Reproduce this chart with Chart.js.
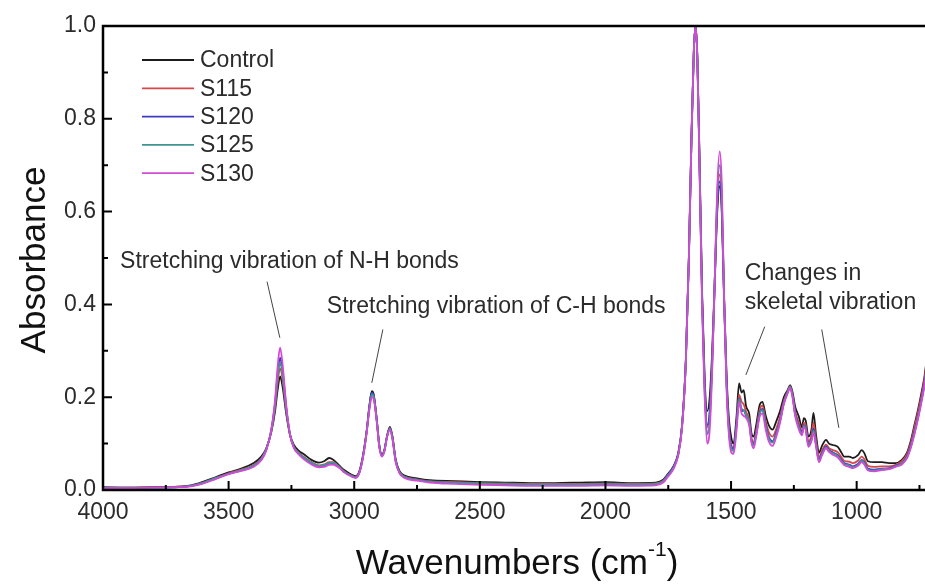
<!DOCTYPE html>
<html>
<head>
<meta charset="utf-8">
<title>FTIR spectra</title>
<script src="https://cdn.jsdelivr.net/npm/chart.js@4"></script>
<style>
  body { margin: 0; background: #fff; }
  canvas { display: block; }
</style>
</head>
<body>
<canvas id="spectra" width="925" height="588"></canvas>
<script>
'use strict'

// Spectra data (absorbance, normalised to the amide I band)

let wavenumbers = [
  4000, 3900, 3800, 3700, 3650, 3600, 3550, 3500, 3450, 3400,
  3370, 3350, 3330, 3315, 3305, 3295, 3285, 3270, 3255, 3240,
  3220, 3200, 3170, 3140, 3120, 3100, 3085, 3060, 3040, 3010,
  2995, 2980, 2965, 2950, 2940, 2930, 2922, 2910, 2900, 2890,
  2880, 2870, 2858, 2848, 2835, 2820, 2800, 2750, 2700, 2600,
  2500, 2400, 2300, 2200, 2100, 2000, 1900, 1800, 1770, 1755,
  1740, 1725, 1710, 1695, 1680, 1668, 1658, 1648, 1641, 1634,
  1625, 1615, 1605, 1595, 1585, 1575, 1565, 1555, 1545, 1537,
  1528, 1518, 1508, 1498, 1490, 1478, 1468, 1458, 1450, 1440,
  1428, 1418, 1410, 1400, 1385, 1375, 1362, 1350, 1335, 1320,
  1305, 1290, 1275, 1265, 1255, 1245, 1230, 1218, 1210, 1203,
  1192, 1180, 1172, 1162, 1150, 1138, 1122, 1110, 1095, 1075,
  1060, 1050, 1030, 1015, 995, 980, 970, 955, 930, 900,
  870, 845, 820, 800, 785, 770, 755, 740, 730, 724
];

let control = [
  0.006, 0.005, 0.006, 0.007, 0.010, 0.018, 0.028, 0.038, 0.046, 0.058,
  0.072, 0.090, 0.125, 0.170, 0.215, 0.245, 0.222, 0.162, 0.118, 0.097,
  0.084, 0.077, 0.065, 0.059, 0.062, 0.069, 0.066, 0.053, 0.043, 0.033,
  0.030, 0.040, 0.075, 0.130, 0.180, 0.213, 0.205, 0.150, 0.095, 0.076,
  0.086, 0.115, 0.136, 0.116, 0.066, 0.041, 0.031, 0.025, 0.021, 0.019,
  0.017, 0.016, 0.015, 0.015, 0.016, 0.017, 0.015, 0.016, 0.022, 0.032,
  0.042, 0.056, 0.080, 0.140, 0.280, 0.500, 0.750, 0.950, 1.000, 0.930,
  0.700, 0.420, 0.240, 0.170, 0.200, 0.300, 0.450, 0.600, 0.655, 0.600,
  0.420, 0.250, 0.150, 0.110, 0.100, 0.160, 0.230, 0.210, 0.215, 0.180,
  0.165, 0.120, 0.115, 0.140, 0.185, 0.190, 0.160, 0.140, 0.130, 0.148,
  0.170, 0.200, 0.215, 0.226, 0.210, 0.180, 0.158, 0.135, 0.155, 0.150,
  0.115, 0.130, 0.166, 0.120, 0.080, 0.095, 0.108, 0.100, 0.097, 0.093,
  0.080, 0.072, 0.072, 0.069, 0.075, 0.086, 0.080, 0.062, 0.060, 0.060,
  0.058, 0.058, 0.065, 0.080, 0.105, 0.140, 0.175, 0.215, 0.245, 0.270
];

let s115 = [
  0.005, 0.005, 0.006, 0.007, 0.009, 0.016, 0.026, 0.036, 0.044, 0.054,
  0.068, 0.088, 0.127, 0.180, 0.232, 0.262, 0.238, 0.168, 0.117, 0.093,
  0.080, 0.071, 0.060, 0.053, 0.055, 0.060, 0.060, 0.050, 0.040, 0.031,
  0.028, 0.038, 0.073, 0.128, 0.176, 0.207, 0.200, 0.148, 0.094, 0.074,
  0.085, 0.114, 0.134, 0.114, 0.064, 0.039, 0.029, 0.023, 0.019, 0.017,
  0.015, 0.014, 0.013, 0.013, 0.013, 0.014, 0.013, 0.014, 0.020, 0.030,
  0.040, 0.054, 0.078, 0.138, 0.278, 0.498, 0.748, 0.950, 1.000, 0.928,
  0.690, 0.405, 0.220, 0.135, 0.165, 0.280, 0.450, 0.620, 0.680, 0.625,
  0.420, 0.235, 0.130, 0.095, 0.090, 0.145, 0.205, 0.190, 0.185, 0.168,
  0.152, 0.110, 0.103, 0.128, 0.175, 0.182, 0.148, 0.125, 0.115, 0.132,
  0.158, 0.192, 0.212, 0.224, 0.205, 0.170, 0.145, 0.126, 0.145, 0.140,
  0.104, 0.118, 0.145, 0.108, 0.070, 0.085, 0.098, 0.090, 0.086, 0.081,
  0.070, 0.063, 0.061, 0.058, 0.063, 0.072, 0.067, 0.052, 0.050, 0.051,
  0.051, 0.054, 0.062, 0.077, 0.100, 0.135, 0.170, 0.208, 0.240, 0.265
];

let s120 = [
  0.005, 0.004, 0.005, 0.006, 0.009, 0.015, 0.025, 0.035, 0.042, 0.052,
  0.066, 0.087, 0.130, 0.188, 0.250, 0.285, 0.255, 0.175, 0.118, 0.092,
  0.078, 0.069, 0.058, 0.051, 0.053, 0.057, 0.058, 0.049, 0.039, 0.030,
  0.027, 0.037, 0.072, 0.128, 0.178, 0.210, 0.203, 0.150, 0.096, 0.075,
  0.085, 0.114, 0.133, 0.113, 0.063, 0.038, 0.028, 0.022, 0.018, 0.015,
  0.013, 0.012, 0.011, 0.011, 0.011, 0.012, 0.011, 0.012, 0.019, 0.030,
  0.041, 0.055, 0.079, 0.139, 0.279, 0.499, 0.749, 0.950, 1.000, 0.928,
  0.690, 0.410, 0.225, 0.140, 0.170, 0.280, 0.445, 0.610, 0.665, 0.610,
  0.415, 0.235, 0.130, 0.092, 0.088, 0.145, 0.198, 0.170, 0.172, 0.160,
  0.148, 0.106, 0.098, 0.122, 0.168, 0.175, 0.140, 0.115, 0.105, 0.124,
  0.150, 0.188, 0.210, 0.222, 0.203, 0.165, 0.138, 0.122, 0.140, 0.135,
  0.098, 0.110, 0.132, 0.100, 0.064, 0.079, 0.094, 0.086, 0.081, 0.075,
  0.064, 0.058, 0.055, 0.051, 0.056, 0.065, 0.060, 0.046, 0.044, 0.046,
  0.047, 0.052, 0.058, 0.072, 0.094, 0.126, 0.160, 0.200, 0.230, 0.255
];

let s125 = [
  0.005, 0.005, 0.005, 0.006, 0.009, 0.016, 0.026, 0.035, 0.043, 0.053,
  0.067, 0.088, 0.128, 0.184, 0.242, 0.275, 0.247, 0.172, 0.118, 0.092,
  0.079, 0.070, 0.059, 0.052, 0.054, 0.058, 0.059, 0.050, 0.040, 0.030,
  0.027, 0.037, 0.072, 0.127, 0.176, 0.206, 0.200, 0.148, 0.094, 0.074,
  0.084, 0.113, 0.132, 0.112, 0.062, 0.038, 0.028, 0.022, 0.018, 0.016,
  0.014, 0.013, 0.012, 0.012, 0.012, 0.013, 0.012, 0.013, 0.019, 0.029,
  0.039, 0.053, 0.077, 0.137, 0.277, 0.497, 0.747, 0.949, 1.000, 0.927,
  0.685, 0.400, 0.212, 0.120, 0.150, 0.270, 0.450, 0.635, 0.700, 0.640,
  0.420, 0.228, 0.122, 0.088, 0.084, 0.138, 0.196, 0.175, 0.172, 0.162,
  0.146, 0.104, 0.096, 0.120, 0.166, 0.172, 0.137, 0.112, 0.102, 0.120,
  0.148, 0.187, 0.211, 0.222, 0.202, 0.164, 0.135, 0.120, 0.138, 0.133,
  0.096, 0.108, 0.128, 0.098, 0.062, 0.077, 0.092, 0.084, 0.079, 0.073,
  0.062, 0.056, 0.053, 0.049, 0.054, 0.063, 0.058, 0.044, 0.042, 0.045,
  0.046, 0.051, 0.057, 0.070, 0.092, 0.123, 0.158, 0.198, 0.228, 0.252
];

let s130 = [
  0.004, 0.004, 0.005, 0.006, 0.008, 0.014, 0.024, 0.034, 0.041, 0.050,
  0.064, 0.085, 0.130, 0.195, 0.265, 0.307, 0.270, 0.180, 0.118, 0.090,
  0.076, 0.066, 0.055, 0.049, 0.050, 0.054, 0.055, 0.048, 0.038, 0.029,
  0.026, 0.036, 0.070, 0.125, 0.172, 0.200, 0.195, 0.145, 0.092, 0.072,
  0.083, 0.112, 0.130, 0.110, 0.060, 0.036, 0.026, 0.020, 0.016, 0.013,
  0.011, 0.010, 0.009, 0.009, 0.009, 0.010, 0.009, 0.010, 0.016, 0.026,
  0.036, 0.050, 0.075, 0.135, 0.275, 0.495, 0.745, 0.948, 1.000, 0.925,
  0.680, 0.390, 0.200, 0.100, 0.130, 0.260, 0.450, 0.650, 0.730, 0.660,
  0.420, 0.220, 0.115, 0.080, 0.078, 0.130, 0.190, 0.165, 0.160, 0.155,
  0.140, 0.100, 0.090, 0.115, 0.160, 0.165, 0.130, 0.105, 0.095, 0.115,
  0.145, 0.185, 0.208, 0.220, 0.198, 0.160, 0.130, 0.118, 0.135, 0.130,
  0.093, 0.105, 0.123, 0.095, 0.060, 0.075, 0.090, 0.082, 0.076, 0.070,
  0.060, 0.054, 0.050, 0.047, 0.052, 0.060, 0.055, 0.042, 0.040, 0.043,
  0.045, 0.050, 0.055, 0.068, 0.090, 0.120, 0.155, 0.195, 0.225, 0.250
];

let seriesNames = ['Control', 'S115', 'S120', 'S125', 'S130'];
let seriesValues = [control, s115, s120, s125, s130];
let seriesColors = ['#1c1c1c', '#d8474a', '#3a3ac4', '#3f9494', '#d24ad6'];

let xTickValues = [4000, 3500, 3000, 2500, 2000, 1500, 1000];
let xMinorValues = [3750, 3250, 2750, 2250, 1750, 1250, 750];
let yTickValues = [0, 0.2, 0.4, 0.6, 0.8, 1.0];
let yMinorValues = [0.1, 0.3, 0.5, 0.7, 0.9];

const FONT = '"Liberation Sans", Arial, sans-serif';
const INK = '#2b2b2b';

// Labels and leader lines, anchored in data space (wavenumber, absorbance)
let notes = [
  { text: 'Stretching vibration of N-H bonds', x: 3932, y: 0.492 },
  { text: 'Stretching vibration of C-H bonds', x: 3109, y: 0.395 },
  { text: 'Changes in', x: 1445, y: 0.467 },
  { text: 'skeletal vibration', x: 1445, y: 0.404 }
];
let leaders = [
  [3347, 0.449, 3296, 0.328],
  [2886, 0.346, 2930, 0.231],
  [1366, 0.352, 1441, 0.248],
  [1139, 0.346, 1071, 0.134]
];

// Frame, inward ticks, legend, notes and axis titles
const decorations = {
  id: 'decorations',
  afterDraw(chart) {
    const ctx = chart.ctx;
    const area = chart.chartArea;
    const xs = chart.scales.x;
    const ys = chart.scales.y;

    ctx.save();
    ctx.strokeStyle = '#000';
    ctx.lineWidth = 2.5;
    ctx.beginPath();
    ctx.moveTo(area.left, area.top);
    ctx.lineTo(area.right + 2, area.top);
    ctx.moveTo(area.left, area.top - 1.2);
    ctx.lineTo(area.left, area.bottom);
    ctx.lineTo(area.right + 2, area.bottom);
    ctx.stroke();

    ctx.lineWidth = 2;
    ctx.beginPath();
    xTickValues.forEach(v => {
      let px = xs.getPixelForValue(v);
      ctx.moveTo(px, area.bottom);
      ctx.lineTo(px, area.bottom - 9);
    });
    xMinorValues.forEach(v => {
      let px = xs.getPixelForValue(v);
      if (px > area.right) return;
      ctx.moveTo(px, area.bottom);
      ctx.lineTo(px, area.bottom - 5);
    });
    yTickValues.forEach(v => {
      let py = ys.getPixelForValue(v);
      ctx.moveTo(area.left, py);
      ctx.lineTo(area.left + 9, py);
    });
    yMinorValues.forEach(v => {
      let py = ys.getPixelForValue(v);
      ctx.moveTo(area.left, py);
      ctx.lineTo(area.left + 5, py);
    });
    ctx.stroke();

    // legend
    ctx.font = '23px ' + FONT;
    ctx.textBaseline = 'middle';
    ctx.textAlign = 'left';
    seriesNames.forEach((name, i) => {
      let y = area.top + 34 + i * 28.3;
      ctx.strokeStyle = seriesColors[i];
      ctx.lineWidth = 1.8;
      ctx.beginPath();
      ctx.moveTo(area.left + 39, y);
      ctx.lineTo(area.left + 91, y);
      ctx.stroke();
      ctx.fillStyle = INK;
      ctx.fillText(name, area.left + 97, y + 1);
    });

    // notes
    ctx.fillStyle = INK;
    notes.forEach(n => {
      ctx.fillText(n.text, xs.getPixelForValue(n.x), ys.getPixelForValue(n.y));
    });
    ctx.strokeStyle = '#444';
    ctx.lineWidth = 1;
    ctx.beginPath();
    leaders.forEach(l => {
      ctx.moveTo(xs.getPixelForValue(l[0]), ys.getPixelForValue(l[1]));
      ctx.lineTo(xs.getPixelForValue(l[2]), ys.getPixelForValue(l[3]));
    });
    ctx.stroke();

    // axis titles
    ctx.fillStyle = '#111';
    ctx.font = '35px ' + FONT;
    ctx.save();
    ctx.translate(35, (area.top + area.bottom) / 2 + 2);
    ctx.rotate(-Math.PI / 2);
    ctx.textAlign = 'center';
    ctx.fillText('Absorbance', 0, 0);
    ctx.restore();

    let main = 'Wavenumbers (cm';
    ctx.font = '35px ' + FONT;
    let wMain = ctx.measureText(main).width;
    let wClose = ctx.measureText(')').width;
    ctx.font = '21px ' + FONT;
    let wSup = ctx.measureText('-1').width;
    let x0 = 517 - (wMain + wSup + wClose) / 2;
    let yT = 564;
    ctx.textAlign = 'left';
    ctx.font = '35px ' + FONT;
    ctx.fillText(main, x0, yT);
    ctx.font = '21px ' + FONT;
    ctx.fillText('-1', x0 + wMain, yT - 14);
    ctx.font = '35px ' + FONT;
    ctx.fillText(')', x0 + wMain + wSup, yT);
    ctx.restore();
  }
};

let datasets = seriesNames.map((name, i) => ({
  label: name,
  data: wavenumbers.map((w, j) => ({ x: w, y: seriesValues[i][j] })),
  borderColor: seriesColors[i],
  borderWidth: 1.8,
  pointRadius: 0,
  cubicInterpolationMode: 'monotone',
  fill: false,
  order: seriesNames.length - i
}));

new Chart(document.getElementById('spectra'), {
  type: 'line',
  data: { datasets: datasets },
  options: {
    responsive: false,
    animation: false,
    devicePixelRatio: 1,
    layout: { padding: { top: 26, right: 0, left: 0, bottom: 0 } },
    plugins: {
      legend: { display: false },
      tooltip: { enabled: false }
    },
    scales: {
      x: {
        type: 'linear',
        reverse: true,
        min: 728,
        max: 4000,
        afterFit: s => { s.height = 98; },
        afterBuildTicks: s => { s.ticks = xTickValues.map(v => ({ value: v })); },
        grid: { display: false, drawTicks: false },
        border: { display: false },
        ticks: {
          padding: 9,
          color: INK,
          font: { family: FONT, size: 23 },
          maxRotation: 0,
          callback: v => String(v)
        }
      },
      y: {
        type: 'linear',
        min: 0,
        max: 1,
        afterFit: s => { s.width = 103; },
        afterBuildTicks: s => { s.ticks = yTickValues.map(v => ({ value: v })); },
        grid: { display: false, drawTicks: false },
        border: { display: false },
        ticks: {
          padding: 7,
          color: INK,
          font: { family: FONT, size: 23 },
          callback: v => v.toFixed(1)
        }
      }
    }
  },
  plugins: [decorations]
});
</script>
</body>
</html>
